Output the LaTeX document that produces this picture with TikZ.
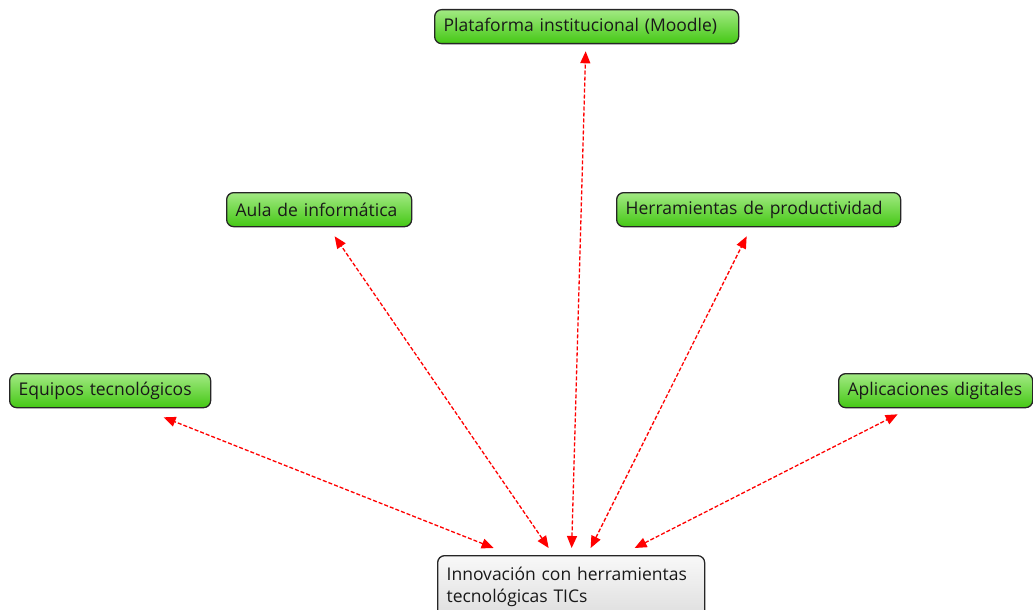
\documentclass[tikz,border=0pt]{standalone}
\usepackage{fontspec}
\setmainfont{Open Sans}
\usetikzlibrary{arrows.meta}
\definecolor{verdeclaro}{HTML}{A2E983}
\definecolor{verdeoscuro}{HTML}{44C814}
\definecolor{grisclaro}{HTML}{F8F8F8}
\definecolor{grisoscuro}{HTML}{DEDEDE}
\begin{document}
\begin{tikzpicture}[x=1pt, y=-1pt, font=\fontsize{17.5}{22}\selectfont,
  tema/.style={draw=black!85, line width=1.3pt, rounded corners=7pt,
    top color=verdeclaro, bottom color=verdeoscuro, text=black!90,
    anchor=north west, align=left, inner xsep=9pt, inner ysep=0pt,
    minimum height=34pt},
  centro/.style={tema, top color=grisclaro, bottom color=grisoscuro,
    minimum height=62pt, inner ysep=6pt},
  flecha/.style={red, dashed, line width=1.3pt, dash pattern=on 4pt off 2pt,
    {Triangle[length=12pt, width=10pt]}-{Triangle[length=12pt, width=10pt]}}]
\useasboundingbox (0,0) rectangle (1033,610);

% nodos
\node[tema, text width=286pt] (plataforma) at (434,9) {Plataforma institucional (Moodle)};
\node[tema, text width=167pt] (aula) at (226,192) {Aula de informática};
\node[tema, text width=266pt] (herramientas) at (616,192) {Herramientas de productividad};
\node[tema, text width=183pt] (equipos) at (9,373) {Equipos tecnológicos};
\node[tema, text width=176pt] (aplicaciones) at (838,373) {Aplicaciones digitales};
\node[centro, text width=249pt, anchor=north west] (innovacion) at (437,555)
  {Innovación con herramientas\\tecnológicas TICs};

% conexiones
\draw[flecha] ([xshift=-77.5pt, yshift=7pt]innovacion.north) -- ([xshift=53.5pt, yshift=-9pt]equipos.south);
\draw[flecha] ([xshift=-22.5pt, yshift=7pt]innovacion.north) -- ([xshift=15.5pt, yshift=-9pt]aula.south);
\draw[flecha] ([xshift=0.5pt, yshift=7pt]innovacion.north) -- ([xshift=-1pt, yshift=-7pt]plataforma.south);
\draw[flecha] ([xshift=19.5pt, yshift=7pt]innovacion.north) -- ([xshift=-12pt, yshift=-9pt]herramientas.south);
\draw[flecha] ([xshift=63.5pt, yshift=7pt]innovacion.north) -- ([xshift=-38pt, yshift=-6pt]aplicaciones.south);
\end{tikzpicture}
\end{document}
